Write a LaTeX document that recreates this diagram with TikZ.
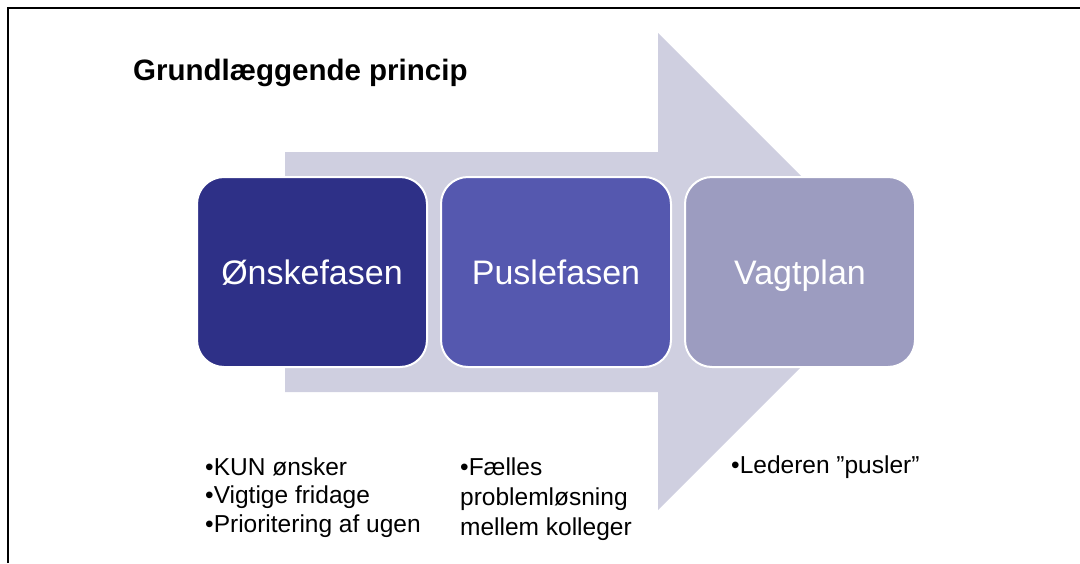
\documentclass[tikz,border=0pt]{standalone}
\usepackage{fontspec}
\setmainfont{Liberation Sans}
\definecolor{arrowc}{HTML}{CFCFE0}
\definecolor{cA}{HTML}{2E3087}
\definecolor{cB}{HTML}{5558AF}
\definecolor{cC}{HTML}{9C9CC0}
\begin{document}
\begin{tikzpicture}[x=1pt,y=1pt,
  phase/.style={draw=white, line width=2pt, rounded corners=27pt,
    minimum width=230pt, minimum height=190pt, text=white,
    font=\fontsize{34}{40}\selectfont, inner sep=0pt,
    text height=24pt, text depth=0pt},
  notes/.style={anchor=base west, align=left, inner sep=0pt}]
\useasboundingbox (0,0) rectangle (1080,-563);
% frame
\draw[line width=2.2pt] (8,-563) -- (8,-8) -- (1080,-8);
% big arrow
\fill[arrowc] (285,-152) -- (658,-152) -- (658,-33) -- (896.5,-271.5)
  -- (658,-510) -- (658,-392) -- (285,-392) -- cycle;
% title
\node[anchor=base west, inner sep=0pt, font=\bfseries\fontsize{29.5}{34}\selectfont] (title) at (133,-80) {Grundlæggende princip};
% phases
\node[phase, fill=cA] (p1) at (312,-272) {Ønskefasen};
\node[phase, fill=cB] (p2) at (556,-272) {Puslefasen};
\node[phase, fill=cC] (p3) at (800,-272) {Vagtplan};
% notes
\node[notes, font=\fontsize{24.5}{28.5}\selectfont] (n1) at (205,-532) {•KUN ønsker\\•Vigtige fridage\\•Prioritering af ugen};
\node[notes, font=\fontsize{24.5}{30}\selectfont] (n2) at (460,-535) {•Fælles\\problemløsning\\mellem kolleger};
\node[notes, font=\fontsize{24.5}{30}\selectfont] (n3) at (731,-473) {•Lederen ”pusler”};
\end{tikzpicture}
\end{document}
